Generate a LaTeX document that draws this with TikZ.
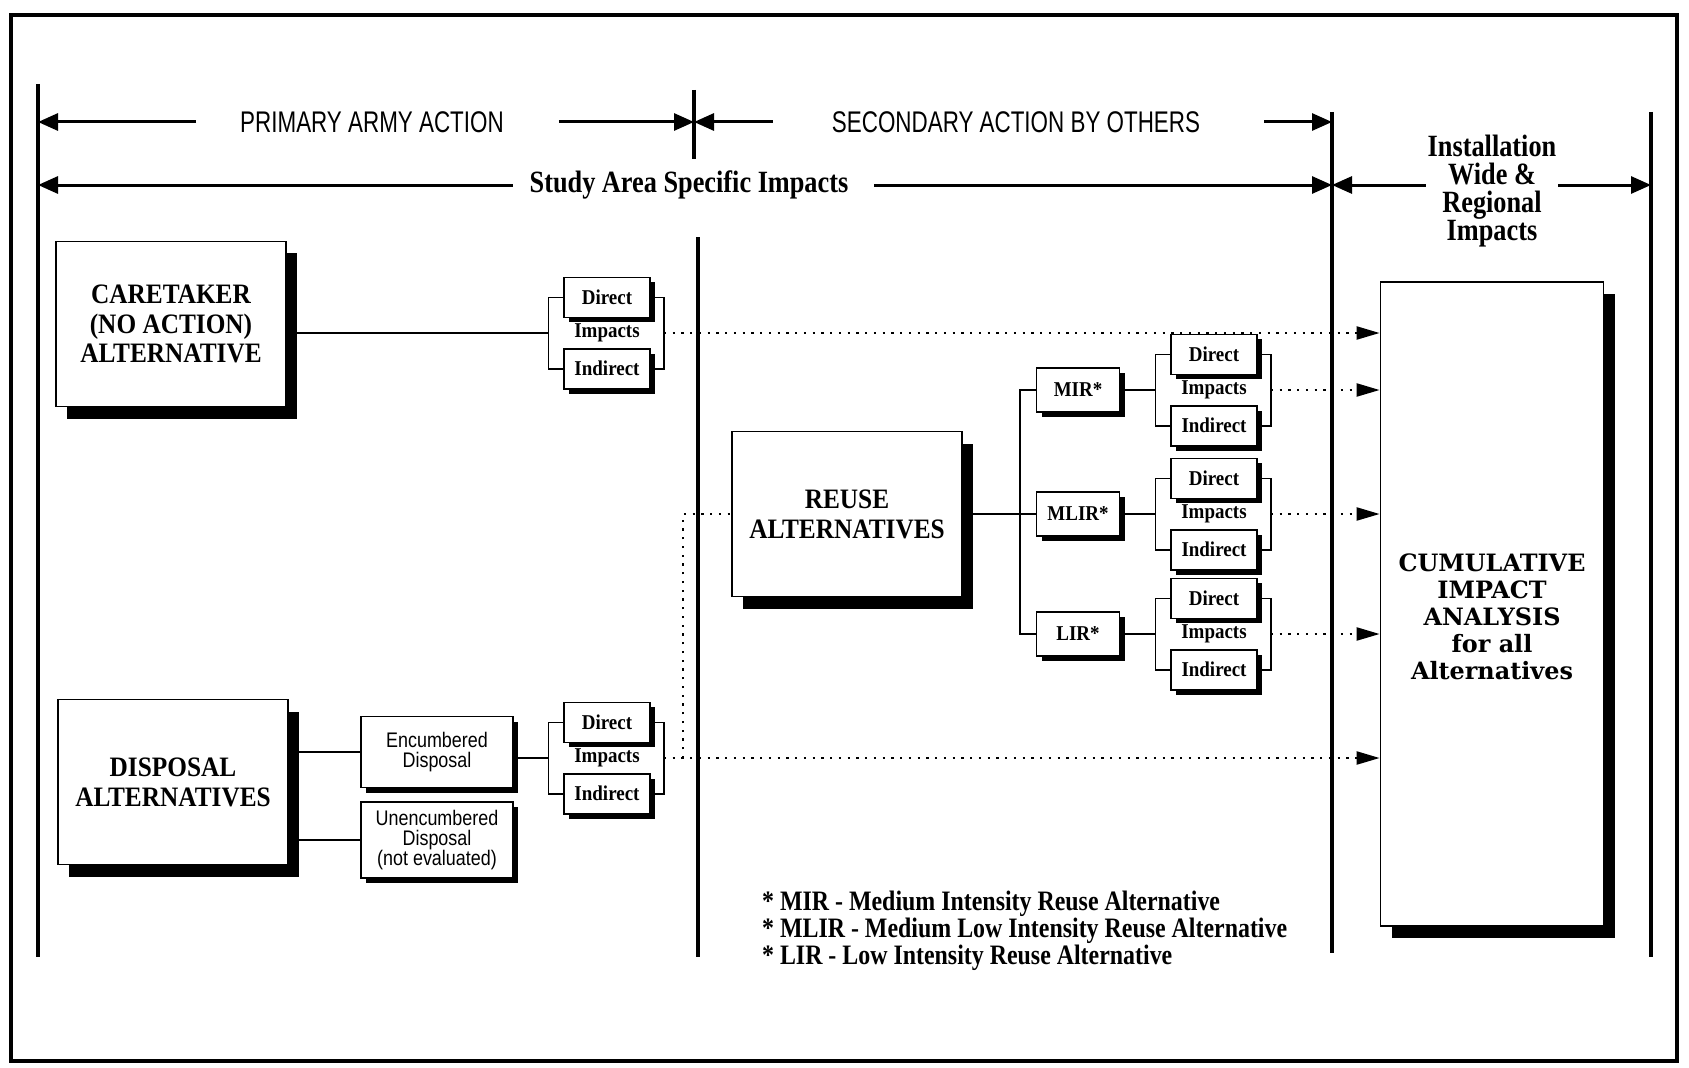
\documentclass[tikz,border=0pt]{standalone}
\usepackage{fontspec}
\setmainfont{Liberation Serif}
\newfontfamily\boxserif[FakeStretch=0.9]{Liberation Serif}
\newfontfamily\condserif[FakeStretch=0.85]{Liberation Serif}
\newfontfamily\condsans[FakeStretch=0.75]{Liberation Sans}
\newfontfamily\narrowsans[FakeStretch=0.85]{Liberation Sans}
\newfontfamily\wideserif{DejaVu Serif}
\usetikzlibrary{arrows.meta,positioning,calc,shadows}

\begin{document}
\begin{tikzpicture}[x=0.2mm,y=-0.2mm,
  >={Triangle[length=4mm,width=3.4mm]},
  every node/.style={align=center,inner sep=1pt},
  bigbox/.style={draw,fill=white,line width=0.35mm,minimum width=46mm,
    minimum height=33mm,font=\fontsize{16}{17}\selectfont\boxserif\bfseries,
    drop shadow={shadow xshift=2.2mm,shadow yshift=-2.4mm,opacity=1,fill=black}},
  cumbox/.style={bigbox,minimum width=44.6mm,minimum height=128.8mm,
    font=\fontsize{13.6}{15.4}\selectfont\wideserif\bfseries},
  impbox/.style={draw,fill=white,line width=0.3mm,minimum width=17.2mm,
    minimum height=8mm,font=\fontsize{12}{13}\selectfont\boxserif\bfseries,
    drop shadow={shadow xshift=1mm,shadow yshift=-1mm,opacity=1,fill=black}},
  altbox/.style={impbox,minimum width=16.6mm,minimum height=8.8mm},
  disbox/.style={impbox,minimum width=30.4mm,
    font=\fontsize{12}{11.6}\selectfont\narrowsans},
  imptext/.style={font=\fontsize{12}{13}\selectfont\boxserif\bfseries},
  headtext/.style={font=\fontsize{17}{20}\selectfont\condsans},
  subtext/.style={font=\fontsize{17.6}{16}\selectfont\condserif\bfseries},
  notetext/.style={align=left,font=\fontsize{16}{15.4}\selectfont\condserif\bfseries},
  divider/.style={line width=0.7mm},
  spanarrow/.style={->,line width=0.6mm},
  link/.style={line width=0.3mm},
  dotline/.style={line width=0.45mm,dash pattern=on 0.45mm off 1.3mm},
  dotflow/.style={dotline,-{Triangle[length=4.6mm,width=2.6mm]}}]
  \useasboundingbox (0,0) rectangle (1689,1068);
  \draw[line width=0.7mm] (11,15) rectangle (1677,1061);

  % column dividers
  \coordinate (vaT) at (38,84);    \coordinate (vaB) at (38,957);
  \coordinate (vbT) at (694,90);   \coordinate (vbB) at (694,159);
  \coordinate (vcT) at (698,237);  \coordinate (vcB) at (698,957);
  \coordinate (vdT) at (1332,112); \coordinate (vdB) at (1332,953);
  \coordinate (veT) at (1651,112); \coordinate (veB) at (1651,957);
  \draw[divider] (vaT) -- (vaB);
  \draw[divider] (vbT) -- (vbB);
  \draw[divider] (vcT) -- (vcB);
  \draw[divider] (vdT) -- (vdB);
  \draw[divider] (veT) -- (veB);

  % headings
  \node[headtext] (prim) at (372,122) {PRIMARY ARMY ACTION};
  \node[headtext] (sec) at (1016,122) {SECONDARY ACTION BY OTHERS};
  \node[subtext] (study) at (689,185) {Study Area Specific Impacts};
  \node[subtext] (inst) at (1492,191) {Installation\\Wide \&\\Regional\\Impacts};
  \draw[spanarrow] ($(prim.west)+(-42,0)$) -- (prim -| vaT);
  \draw[spanarrow] ($(prim.east)+(53,0)$) -- (prim -| vbT);
  \draw[spanarrow] ($(sec.west)+(-57,0)$) -- (sec -| vbT);
  \draw[spanarrow] ($(sec.east)+(62,0)$) -- (sec -| vdT);
  \draw[spanarrow] ($(study.west)+(-15,0)$) -- (study -| vaT);
  \draw[spanarrow] ($(study.east)+(24,0)$) -- (study -| vdT);
  \draw[spanarrow] (inst.west |- study) -- (study -| vdT);
  \draw[spanarrow] (inst.east |- study) -- (study -| veT);

  % alternatives
  \node[bigbox] (care) at (171,324) {CARETAKER\\(NO ACTION)\\ALTERNATIVE};
  \node[bigbox] (disp) at (173,782) {DISPOSAL\\ALTERNATIVES};
  \node[bigbox] (reuse) at (847,514) {REUSE\\ALTERNATIVES};
  \node[cumbox] (cum) at (1492,604)
    {\rule{0pt}{8.6mm}CUMULATIVE\\IMPACT\\ANALYSIS\\for all\\Alternatives};
  \node[disbox,minimum height=14.2mm] (enc) at (437,752) {Encumbered\\Disposal};
  \node[disbox,minimum height=15.2mm] (unenc) at (437,840)
    {Unencumbered\\Disposal\\(not evaluated)};
  \node[altbox] (mir) at (1078,390) {MIR*};
  \node[altbox] (mlir) at (1078,514) {MLIR*};
  \node[altbox] (lir) at (1078,634) {LIR*};

  % caretaker impacts
  \node[imptext] (cimp) at (607,333) {Impacts};
  \node[impbox,anchor=south] (cdir) at ([yshift=3mm]cimp.center) {Direct};
  \node[impbox,anchor=north] (cind) at ([yshift=-3mm]cimp.center) {Indirect};
  \coordinate (cl) at ($(cdir.west |- cimp)+(-15,0)$);
  \coordinate (cr) at ($(cdir.east |- cimp)+(13,0)$);
  \draw[link] (cdir.west) -| (cl) |- (cind.west);
  \draw[link] (cdir.east) -| (cr) |- (cind.east);

  % disposal impacts
  \node[imptext] (dimp) at (607,758) {Impacts};
  \node[impbox,anchor=south] (ddir) at ([yshift=3mm]dimp.center) {Direct};
  \node[impbox,anchor=north] (dind) at ([yshift=-3mm]dimp.center) {Indirect};
  \coordinate (dl) at ($(ddir.west |- dimp)+(-15,0)$);
  \coordinate (dr) at ($(ddir.east |- dimp)+(13,0)$);
  \draw[link] (ddir.west) -| (dl) |- (dind.west);
  \draw[link] (ddir.east) -| (dr) |- (dind.east);

  % reuse impacts
  \node[imptext] (mirimp) at (1214,390) {Impacts};
  \node[impbox,anchor=south] (mirdir) at ([yshift=3mm]mirimp.center) {Direct};
  \node[impbox,anchor=north] (mirind) at ([yshift=-3mm]mirimp.center) {Indirect};
  \coordinate (mirl) at ($(mirdir.west |- mirimp)+(-15,0)$);
  \coordinate (mirr) at ($(mirdir.east |- mirimp)+(13,0)$);
  \draw[link] (mirdir.west) -| (mirl) |- (mirind.west);
  \draw[link] (mirdir.east) -| (mirr) |- (mirind.east);

  \node[imptext] (mlirimp) at (1214,514) {Impacts};
  \node[impbox,anchor=south] (mlirdir) at ([yshift=3mm]mlirimp.center) {Direct};
  \node[impbox,anchor=north] (mlirind) at ([yshift=-3mm]mlirimp.center) {Indirect};
  \coordinate (mlirl) at ($(mlirdir.west |- mlirimp)+(-15,0)$);
  \coordinate (mlirr) at ($(mlirdir.east |- mlirimp)+(13,0)$);
  \draw[link] (mlirdir.west) -| (mlirl) |- (mlirind.west);
  \draw[link] (mlirdir.east) -| (mlirr) |- (mlirind.east);

  \node[imptext] (lirimp) at (1214,634) {Impacts};
  \node[impbox,anchor=south] (lirdir) at ([yshift=3mm]lirimp.center) {Direct};
  \node[impbox,anchor=north] (lirind) at ([yshift=-3mm]lirimp.center) {Indirect};
  \coordinate (lirl) at ($(lirdir.west |- lirimp)+(-15,0)$);
  \coordinate (lirr) at ($(lirdir.east |- lirimp)+(13,0)$);
  \draw[link] (lirdir.west) -| (lirl) |- (lirind.west);
  \draw[link] (lirdir.east) -| (lirr) |- (lirind.east);

  % connectors
  \draw[link] (care.east |- cl) -- (cl);
  \draw[link] (disp.east |- enc) -- (enc.west);
  \draw[link] (disp.east |- unenc) -- (unenc.west);
  \draw[link] (enc.east |- dl) -- (dl);
  \draw[link] (reuse.east) -- (mlir.west);
  \draw[link] (mir.west) -- ++(-16,0) |- (lir.west);
  \draw[link] (mir.east) -- (mirl);
  \draw[link] (mlir.east) -- (mlirl);
  \draw[link] (lir.east) -- (lirl);
  \coordinate (dj) at ($(dr)+(19,0)$);
  \draw[dotline] (dj) |- (reuse.west);
  \draw[dotflow] (cr) -- (cr -| cum.west);
  \draw[dotflow] (mirr) -- (mirr -| cum.west);
  \draw[dotflow] (mlirr) -- (mlirr -| cum.west);
  \draw[dotflow] (lirr) -- (lirr -| cum.west);
  \draw[dotflow] (dr) -- (dr -| cum.west);

  \node[notetext,anchor=west] (note) at (760,931)
    {* MIR - Medium Intensity Reuse Alternative\\
    * MLIR - Medium Low Intensity Reuse Alternative\\
    * LIR - Low Intensity Reuse Alternative};
\end{tikzpicture}
\end{document}
